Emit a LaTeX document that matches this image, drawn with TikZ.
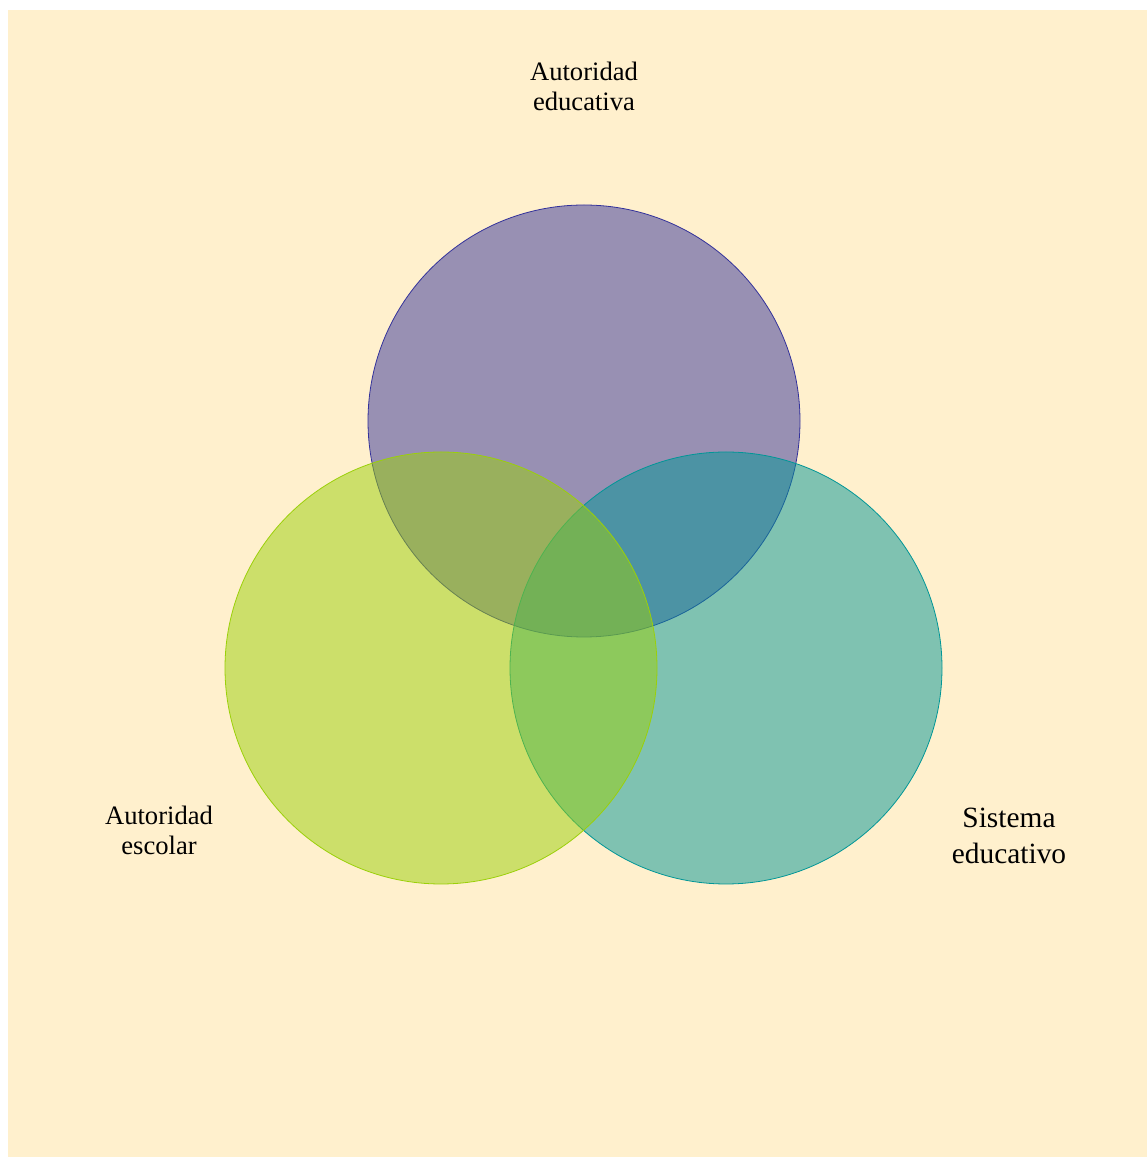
\documentclass[tikz,border=0pt]{standalone}
\usepackage{fontspec}
\setmainfont{Liberation Serif}
\usetikzlibrary{positioning}
\definecolor{cream}{RGB}{255,240,205}
\definecolor{setpurple}{RGB}{51,50,155}
\definecolor{setteal}{RGB}{1,150,151}
\definecolor{setlime}{RGB}{155,208,9}
\tikzset{set/.style={draw=#1,fill=#1,fill opacity=0.5,circle,minimum size=216pt,inner sep=0pt,outer sep=0pt,line width=0.4pt}}
\tikzset{lab/.style={align=center,font=\fontsize{13.3}{15}\selectfont}}

\begin{document}
\begin{tikzpicture}[x=1pt,y=1pt]
\useasboundingbox (0,0) rectangle (573.5,578.5);
\fill[cream] (4,0) rectangle (573.5,573.5);

\node (edu) [set=setpurple] at (292,368) {};
\node (sis) [set=setteal] at (363,244.5) {};
\node (esc) [set=setlime] at (220.5,244.5) {};

\node (tedu) [lab] at (292,535.5) {Autoridad\\educativa};
\node (tesc) [lab] at (79.5,163.5) {Autoridad\\escolar};
\node (tsis) [lab,font=\fontsize{14.7}{18}\selectfont] at (504.5,160.5) {Sistema\\educativo};
\end{tikzpicture}
\end{document}
